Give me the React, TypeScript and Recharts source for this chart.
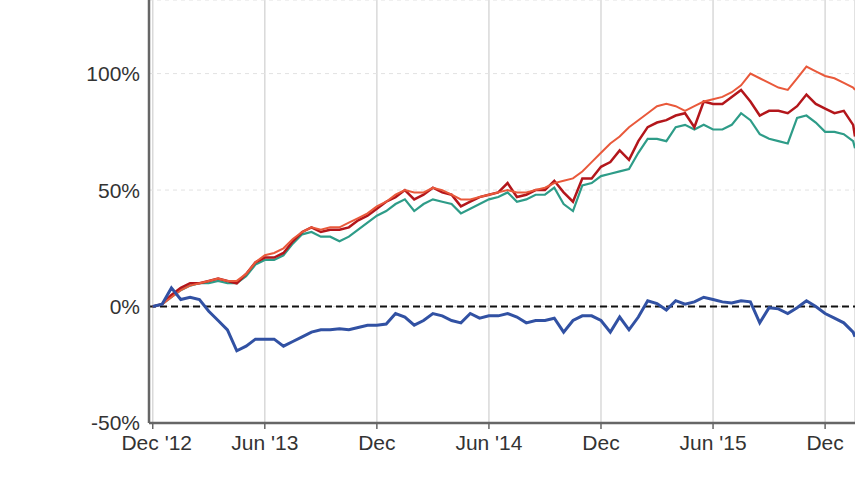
import React from "react";
import { LineChart, Line, XAxis, YAxis, CartesianGrid, ReferenceLine } from "recharts";

// months since Dec 2012
const months = [
  0, 0.5, 1, 1.5, 2, 2.5, 3, 3.5, 4, 4.5, 5, 5.5, 6, 6.5, 7, 7.5, 8, 8.5, 9, 9.5,
  10, 10.5, 11, 11.5, 12, 12.5, 13, 13.5, 14, 14.5, 15, 15.5, 16, 16.5, 17, 17.5, 18, 18.5, 19, 19.5,
  20, 20.5, 21, 21.5, 22, 22.5, 23, 23.5, 24, 24.5, 25, 25.5, 26, 26.5, 27, 27.5, 28, 28.5, 29, 29.5,
  30, 30.5, 31, 31.5, 32, 32.5, 33, 33.5, 34, 34.5, 35, 35.5, 36, 36.5, 37, 37.5, 37.6,
];

const blueSeries = [
  0, 1, 8, 3, 4, 3, -2, -6, -10, -19, -17, -14, -14, -14, -17, -15, -13, -11, -10, -10,
  -9.5, -10, -9, -8, -8, -7.5, -3, -4.5, -8, -6, -3, -4, -6, -7, -3, -5, -4, -4, -3, -4.5,
  -7, -6, -6, -5, -11, -6, -4, -4, -6, -11, -4.5, -10, -4.5, 2.5, 1.3, -1.5, 2.5, 1, 2, 4,
  3, 2, 1.5, 2.5, 2, -7, -0.5, -1, -3, -0.5, 2.5, 0, -3, -5, -7, -11, -13,
];

const darkRedSeries = [
  0, 1, 5, 8, 10, 10, 11, 12, 11, 10, 14, 19, 21, 21, 23, 28, 32, 34, 32, 33,
  33, 34, 37, 39, 42, 45, 47, 50, 46, 48, 51, 49, 48, 43, 45, 47, 48, 49, 53, 47,
  48, 50, 50, 54, 49, 45, 55, 55, 60, 62, 67, 63, 71, 77, 79, 80, 82, 83, 77, 88,
  87, 87, 90, 93, 88, 82, 84, 84, 83, 86, 91, 87, 85, 83, 84, 78, 73,
];

const tealSeries = [
  0, 1, 4, 7, 9, 10, 10, 11, 10, 10, 13, 18, 20, 20, 22, 27, 31, 32, 30, 30,
  28, 30, 33, 36, 39, 41, 44, 46, 41, 44, 46, 45, 44, 40, 42, 44, 46, 47, 49, 45,
  46, 48, 48, 51, 44, 41, 52, 53, 56, 57, 58, 59, 66, 72, 72, 71, 77, 78, 76, 78,
  76, 76, 78, 83, 80, 74, 72, 71, 70, 81, 82, 79, 75, 75, 74, 71, 68,
];

const orangeSeries = [
  0, 1, 4, 7, 9, 10, 11, 12, 11, 11, 14, 19, 22, 23, 25, 29, 32, 34, 33, 34,
  34, 36, 38, 40, 43, 45, 48, 50, 49, 49, 51, 50, 48, 46, 46, 47, 48, 49, 50, 49,
  49, 50, 51, 53, 54, 55, 58, 62, 66, 70, 73, 77, 80, 83, 86, 87, 86, 84, 86, 88,
  89, 90, 92, 95, 100, 98, 96, 94, 93, 98, 103, 101, 99, 98, 96, 94, 93,
];

const xTicks = [0, 6, 12, 18, 24, 30, 36];
const xTickLabels = ["Dec '12", "Jun '13", "Dec", "Jun '14", "Dec", "Jun '15", "Dec"];
const yTicks = [-50, 0, 50, 100];

const data = months.map((m, i) => ({
  m,
  blue: blueSeries[i],
  darkRed: darkRedSeries[i],
  teal: tealSeries[i],
  orange: orangeSeries[i],
}));

const FONT = "Arial, 'Liberation Sans', sans-serif";

const XTick = (props: any) => {
  const { x, y, payload, index } = props;
  const i = xTicks.indexOf(payload.value);
  const label = i >= 0 ? xTickLabels[i] : "";
  return (
    <text
      x={x + (index === 0 ? 4 : 0)}
      y={y}
      dy="0.71em"
      textAnchor="middle"
      fill="#333"
      fontSize={21}
      fontFamily={FONT}
    >
      {label}
    </text>
  );
};

export default function App() {
  return (
    <div
      style={{
        position: "absolute",
        left: 0,
        top: 0,
        width: 855,
        height: 480,
        overflow: "hidden",
        background: "#fff",
      }}
    >
      <LineChart
        width={855}
        height={480}
        data={data}
        margin={{ top: 0, right: 0, bottom: 0, left: 0 }}
      >
        <CartesianGrid horizontal={false} vertical={true} stroke="#d9d9d9" strokeWidth={1.5} />
        <CartesianGrid horizontal={true} vertical={false} stroke="#e2e2e2" strokeDasharray="4 4" />
        <XAxis
          dataKey="m"
          type="number"
          domain={[-0.2, 37.6]}
          allowDataOverflow
          ticks={xTicks}
          tick={<XTick />}
          height={57}
          tickSize={6}
          tickMargin={6}
          axisLine={{ stroke: "#666", strokeWidth: 2.5 }}
          tickLine={{ stroke: "#666", strokeWidth: 1.5 }}
        />
        <YAxis
          type="number"
          domain={[-50, 131.6]}
          allowDataOverflow
          ticks={yTicks}
          tickFormatter={(v: number) => `${v}%`}
          width={149}
          tickSize={0}
          tickMargin={9}
          tickLine={false}
          axisLine={{ stroke: "#666", strokeWidth: 2.5 }}
          tick={{ fill: "#333", fontSize: 21, fontFamily: FONT }}
        />
        <ReferenceLine y={0} stroke="#111" strokeWidth={2} strokeDasharray="7 4" />
        <Line type="linear" dataKey="teal" stroke="#2e9c88" strokeWidth={2.2} dot={false} isAnimationActive={false} />
        <Line type="linear" dataKey="darkRed" stroke="#b3161b" strokeWidth={2.5} dot={false} isAnimationActive={false} />
        <Line type="linear" dataKey="orange" stroke="#e9593b" strokeWidth={2} dot={false} isAnimationActive={false} />
        <Line type="linear" dataKey="blue" stroke="#3151a3" strokeWidth={3} dot={false} isAnimationActive={false} />
      </LineChart>
    </div>
  );
}
